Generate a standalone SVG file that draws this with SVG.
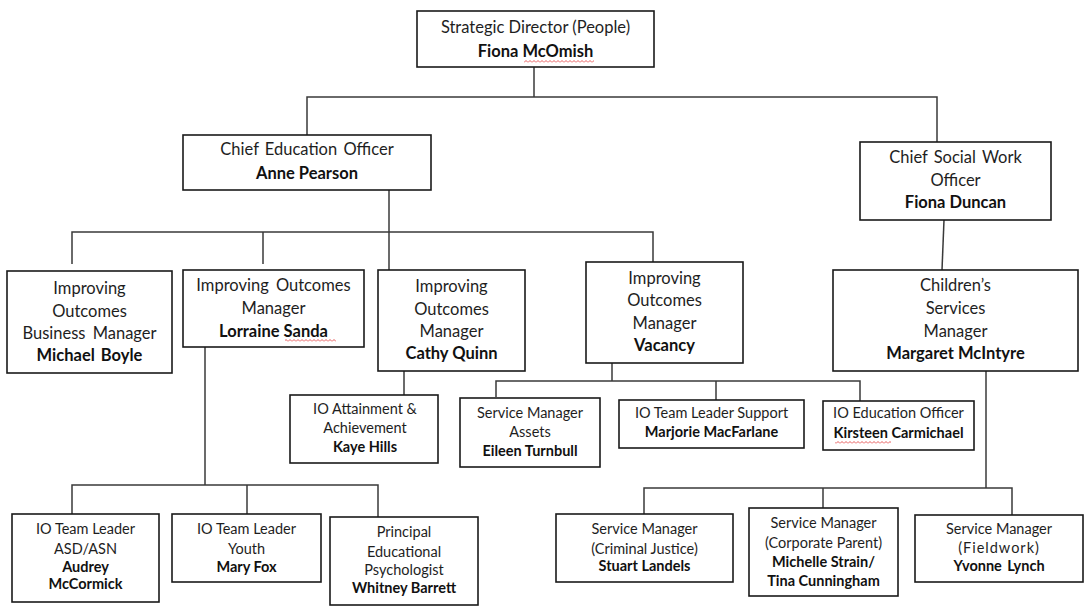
<svg xmlns="http://www.w3.org/2000/svg" width="1088" height="606" viewBox="0 0 1088 606">
<style>
.box{fill:#fff;stroke:#1a1a1a;stroke-width:1.6}
.ln{fill:none;stroke:#3a3a3a;stroke-width:1.5}
text{font-family:Lato,"Liberation Sans",sans-serif;fill:#1e1e1e;text-anchor:middle}
.L{font-size:16.5px}
.S{font-size:14.5px}
.b{font-weight:bold;fill:#111}
.sq{fill:url(#squig)}
</style>
<defs>
<pattern id="squig" width="4" height="3" patternUnits="userSpaceOnUse">
<path d="M0 2.5 L2 0.5 L4 2.5" fill="none" stroke="#e03030" stroke-width="0.8"/>
</pattern>
</defs>
<rect width="1088" height="606" fill="#fff"/>
<g id="connectors">
<path class="ln" d="M534 67 V97"/>
<path class="ln" d="M307 135 V97 H937 V142"/>
<path class="ln" d="M389 190 V270"/>
<path class="ln" d="M72 264 V232 H653 V262"/>
<path class="ln" d="M263 232 V264"/>
<path class="ln" d="M944 220 L942 270"/>
<path class="ln" d="M205 347 V485"/>
<path class="ln" d="M72 514 V485 H378 V517"/>
<path class="ln" d="M247 485 V514"/>
<path class="ln" d="M404 371 V395"/>
<path class="ln" d="M612 363 V381"/>
<path class="ln" d="M496 397 V381 H860 V401"/>
<path class="ln" d="M716 381 V400"/>
<path class="ln" d="M986 371 V488"/>
<path class="ln" d="M644 514 V488 H1012 V515"/>
<path class="ln" d="M823 488 V508"/>
</g>
<g id="strategic-director">
<rect class="box" x="417" y="11" width="237" height="56"/>
<text class="L" x="535.5" y="33">Strategic Director (People)</text>
<text class="L b" x="535.5" y="57">Fiona McOmish</text>
<rect class="sq" x="524" y="60" width="70" height="3"/>
</g>
<g id="chief-education-officer">
<rect class="box" x="183" y="135" width="248" height="55"/>
<text class="L" x="307" y="155" word-spacing="2">Chief Education Officer</text>
<text class="L b" x="307" y="179">Anne Pearson</text>
</g>
<g id="chief-social-work-officer">
<rect class="box" x="860" y="142" width="191" height="78"/>
<text class="L" x="955.5" y="163" word-spacing="2">Chief Social Work</text>
<text class="L" x="955.5" y="186">Officer</text>
<text class="L b" x="955.5" y="208">Fiona Duncan</text>
</g>
<g id="io-business-manager">
<rect class="box" x="7" y="271" width="165" height="102"/>
<text class="L" x="89.5" y="294">Improving</text>
<text class="L" x="89.5" y="316.5">Outcomes</text>
<text class="L" x="89.5" y="339" word-spacing="3">Business Manager</text>
<text class="L b" x="89.5" y="361" word-spacing="2">Michael Boyle</text>
</g>
<g id="io-manager-sanda">
<rect class="box" x="183" y="270" width="181" height="77"/>
<text class="L" x="273.5" y="291" word-spacing="3">Improving Outcomes</text>
<text class="L" x="273.5" y="314">Manager</text>
<text class="L b" x="273.5" y="337">Lorraine Sanda</text>
<rect class="sq" x="285" y="339" width="51" height="3"/>
</g>
<g id="io-manager-quinn">
<rect class="box" x="378" y="270" width="147" height="101"/>
<text class="L" x="451.5" y="292">Improving</text>
<text class="L" x="451.5" y="314.5">Outcomes</text>
<text class="L" x="451.5" y="337">Manager</text>
<text class="L b" x="451.5" y="359">Cathy Quinn</text>
</g>
<g id="io-manager-vacancy">
<rect class="box" x="586" y="262" width="157" height="101"/>
<text class="L" x="664.5" y="283.5">Improving</text>
<text class="L" x="664.5" y="306">Outcomes</text>
<text class="L" x="664.5" y="328.5">Manager</text>
<text class="L b" x="664.5" y="351">Vacancy</text>
</g>
<g id="childrens-services-manager">
<rect class="box" x="833" y="270" width="245" height="101"/>
<text class="L" x="955.5" y="291">Children’s</text>
<text class="L" x="955.5" y="314">Services</text>
<text class="L" x="955.5" y="337">Manager</text>
<text class="L b" x="955.5" y="359">Margaret McIntyre</text>
</g>
<g id="io-attainment">
<rect class="box" x="290" y="395" width="148" height="68"/>
<text class="S" x="365" y="414">IO Attainment &amp;</text>
<text class="S" x="365" y="433">Achievement</text>
<text class="S b" x="365" y="452">Kaye Hills</text>
</g>
<g id="service-manager-assets">
<rect class="box" x="460" y="398" width="140" height="69"/>
<text class="S" x="530" y="418">Service Manager</text>
<text class="S" x="530" y="437">Assets</text>
<text class="S b" x="530" y="456">Eileen Turnbull</text>
</g>
<g id="io-team-leader-support">
<rect class="box" x="619" y="400" width="185" height="48"/>
<text class="S" x="711.5" y="418">IO Team Leader Support</text>
<text class="S b" x="711.5" y="437">Marjorie MacFarlane</text>
</g>
<g id="io-education-officer">
<rect class="box" x="823" y="401" width="151" height="49"/>
<text class="S" x="898.5" y="418">IO Education Officer</text>
<text class="S b" x="898.5" y="438">Kirsteen Carmichael</text>
<rect class="sq" x="835" y="441" width="56" height="3"/>
</g>
<g id="io-team-leader-asd">
<rect class="box" x="12" y="514" width="147" height="88"/>
<text class="S" x="85.5" y="534">IO Team Leader</text>
<text class="S" x="85.5" y="554">ASD/ASN</text>
<text class="S b" x="85.5" y="572">Audrey</text>
<text class="S b" x="85.5" y="589">McCormick</text>
</g>
<g id="io-team-leader-youth">
<rect class="box" x="172" y="514" width="149" height="68"/>
<text class="S" x="246.5" y="534">IO Team Leader</text>
<text class="S" x="246.5" y="554">Youth</text>
<text class="S b" x="246.5" y="572">Mary Fox</text>
</g>
<g id="principal-psychologist">
<rect class="box" x="330" y="517" width="148" height="88"/>
<text class="S" x="404" y="537">Principal</text>
<text class="S" x="404" y="557">Educational</text>
<text class="S" x="404" y="575">Psychologist</text>
<text class="S b" x="404" y="593">Whitney Barrett</text>
</g>
<g id="service-manager-criminal-justice">
<rect class="box" x="556" y="514" width="177" height="68"/>
<text class="S" x="644.5" y="534">Service Manager</text>
<text class="S" x="644.5" y="554">(Criminal Justice)</text>
<text class="S b" x="644.5" y="571">Stuart Landels</text>
</g>
<g id="service-manager-corporate-parent">
<rect class="box" x="749" y="508" width="149" height="88"/>
<text class="S" x="823.5" y="528">Service Manager</text>
<text class="S" x="823.5" y="548">(Corporate Parent)</text>
<text class="S b" x="823.5" y="567">Michelle Strain/</text>
<text class="S b" x="823.5" y="586">Tina Cunningham</text>
</g>
<g id="service-manager-fieldwork">
<rect class="box" x="915" y="515" width="168" height="67"/>
<text class="S" x="999" y="534">Service Manager</text>
<text class="S" x="999" y="553" letter-spacing="1">(Fieldwork)</text>
<text class="S b" x="999" y="571" word-spacing="2">Yvonne Lynch</text>
</g>
</svg>
